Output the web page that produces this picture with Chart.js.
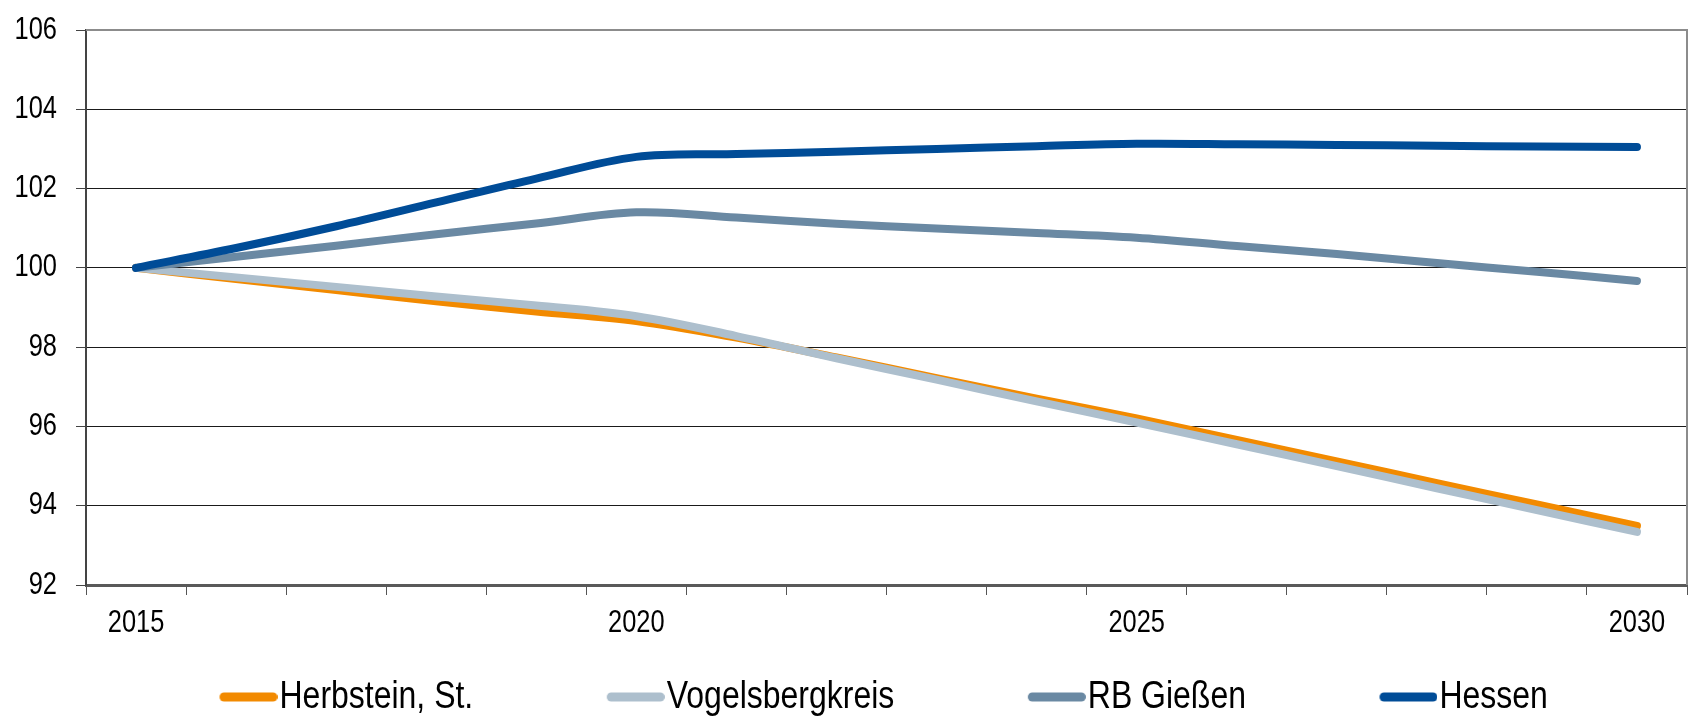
<!DOCTYPE html>
<html>
<head>
<meta charset="utf-8">
<script src="https://cdn.jsdelivr.net/npm/chart.js@4.4.1/dist/chart.umd.min.js"></script>
<style>
  html, body { margin: 0; padding: 0; background: #ffffff; }
  #wrap { width: 1690px; height: 718px; }
</style>
</head>
<body>
<div id="wrap"><canvas id="c" width="1690" height="718"></canvas></div>
<script>
// ---- data ----
const years = ['2015','2016','2017','2018','2019','2020','2021','2022','2023','2024','2025','2026','2027','2028','2029','2030'];
const yearLabelsShown = ['2015','2020','2025','2030'];
const herbstein = [100, 99.72, 99.44, 99.16, 98.90, 98.66, 98.24, 97.74, 97.22, 96.70, 96.20, 95.66, 95.12, 94.57, 94.03, 93.49];
const vogelsberg = [100, 99.76, 99.52, 99.28, 99.05, 98.78, 98.28, 97.72, 97.18, 96.63, 96.10, 95.55, 95.00, 94.44, 93.89, 93.34];
const rbGiessen = [100, 100.28, 100.56, 100.85, 101.12, 101.40, 101.27, 101.11, 100.99, 100.88, 100.76, 100.55, 100.35, 100.12, 99.90, 99.67];
const hessen = [100, 100.50, 101.05, 101.65, 102.25, 102.80, 102.87, 102.93, 103.00, 103.07, 103.13, 103.12, 103.10, 103.08, 103.06, 103.05];
const yTickValues = [92, 94, 96, 98, 100, 102, 104, 106];
const seriesNames = ['Herbstein, St.', 'Vogelsbergkreis', 'RB Gießen', 'Hessen'];
const seriesColors = ['#F28A00', '#ADBFCD', '#6A89A3', '#004C97'];

// Narrow sans: Liberation Sans (Arial metrics) condensed horizontally like Arial Narrow
const FONT = "'Liberation Sans', Arial, sans-serif";
const NARROW = 0.82;
(function () {
  const proto = CanvasRenderingContext2D.prototype;
  const origFill = proto.fillText;
  const origMeasure = proto.measureText;
  const isNarrow = (ctx) => ctx.font.indexOf('Liberation Sans') >= 0;
  proto.fillText = function (text, x, y, maxWidth) {
    if (!isNarrow(this)) return origFill.apply(this, arguments);
    this.save();
    this.translate(x, y);
    this.scale(NARROW, 1);
    origFill.call(this, text, 0, 0);
    this.restore();
  };
  proto.measureText = function (text) {
    const m = origMeasure.call(this, text);
    if (!isNarrow(this)) return m;
    return {
      width: m.width * NARROW,
      actualBoundingBoxLeft: m.actualBoundingBoxLeft * NARROW,
      actualBoundingBoxRight: m.actualBoundingBoxRight * NARROW,
      actualBoundingBoxAscent: m.actualBoundingBoxAscent,
      actualBoundingBoxDescent: m.actualBoundingBoxDescent,
      fontBoundingBoxAscent: m.fontBoundingBoxAscent,
      fontBoundingBoxDescent: m.fontBoundingBoxDescent
    };
  };
})();

// legend sample: a line image, drawn at the right part of a wider box
const LEG_BOX = 164;
function legendLine(color) {
  const W = LEG_BOX + 35, H = 12;
  const cv = document.createElement('canvas');
  cv.width = W; cv.height = H;
  const g = cv.getContext('2d');
  g.strokeStyle = color; g.lineWidth = 9; g.lineCap = 'round';
  g.beginPath(); g.moveTo(W - 58 + 4.5, H / 2); g.lineTo(W - 4.5, H / 2); g.stroke();
  return cv;
}

const seriesData = [herbstein, vogelsberg, rbGiessen, hessen];
const datasets = seriesData.map((d, i) => ({
  label: seriesNames[i],
  data: d,
  borderColor: seriesColors[i],
  backgroundColor: seriesColors[i],
  borderWidth: 8,
  borderCapStyle: 'round',
  borderJoinStyle: 'round',
  tension: 0.35,
  fill: false,
  pointRadius: 0,
  pointHoverRadius: 0,
  pointStyle: legendLine(seriesColors[i]),
  order: 4 - i
}));

const framePlugin = {
  id: 'frame',
  beforeDatasetsDraw(chart) {
    const {ctx, chartArea: a} = chart;
    ctx.save();
    ctx.strokeStyle = '#8c8c8c';
    ctx.lineWidth = 2;
    ctx.beginPath();
    ctx.moveTo(a.left, a.top);
    ctx.lineTo(a.right, a.top);
    ctx.lineTo(a.right, a.bottom);
    ctx.stroke();
    ctx.restore();
  }
};

new Chart(document.getElementById('c'), {
  type: 'line',
  data: { labels: years, datasets },
  plugins: [framePlugin],
  options: {
    responsive: false,
    animation: false,
    devicePixelRatio: 1,
    layout: { padding: { left: 0, right: 3, top: 30, bottom: -8.5 } },
    plugins: {
      tooltip: { enabled: false },
      legend: {
        position: 'bottom',
        align: 'start',
        fullSize: false,
        labels: {
          usePointStyle: true,
          pointStyleWidth: LEG_BOX,
          padding: 10,
          color: '#000',
          font: { family: FONT, size: 39 },
          sort: (a, b) => a.datasetIndex - b.datasetIndex
        }
      }
    },
    scales: {
      x: {
        type: 'category',
        offset: true,
        afterFit(scale) { scale.height = 82.5; },
        grid: {
          offset: true,
          drawOnChartArea: false,
          drawTicks: true,
          tickLength: 10,
          color: '#555',
          lineWidth: 1
        },
        border: { display: true, color: '#595959', width: 3 },
        ticks: {
          autoSkip: false,
          maxRotation: 0,
          padding: 10,
          color: '#000',
          font: { family: FONT, size: 31 },
          callback: function (value) {
            const l = this.getLabelForValue(value);
            return yearLabelsShown.includes(l) ? l : '';
          }
        }
      },
      y: {
        min: yTickValues[0],
        max: yTickValues[yTickValues.length - 1],
        afterFit(scale) { scale.width = 86; scale.paddingTop = 0; scale.paddingBottom = 0; },
        afterBuildTicks(scale) { scale.ticks = yTickValues.map(v => ({ value: v })); },
        grid: {
          color: '#1a1a1a',
          lineWidth: 1,
          tickLength: 10,
          tickColor: '#444'
        },
        border: { display: true, color: '#444', width: 2 },
        ticks: {
          padding: 19,
          color: '#000',
          font: { family: FONT, size: 31 }
        }
      }
    }
  }
});
</script>
</body>
</html>
